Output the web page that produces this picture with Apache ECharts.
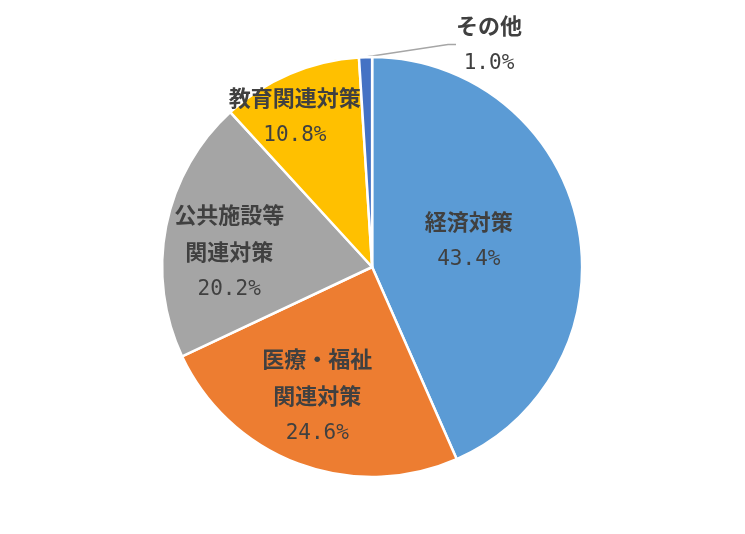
<!DOCTYPE html>
<html><head><meta charset="utf-8">
<script src="https://cdn.jsdelivr.net/npm/echarts@6/dist/echarts.min.js"></script>
<style>html,body{margin:0;padding:0;background:#fff}#c{width:745px;height:534px}</style>
</head><body><div id="c"></div>
<script>
const categories = ['経済対策', '医療・福祉\n関連対策', '公共施設等\n関連対策', '教育関連対策', 'その他'];
const values = [43.4, 24.6, 20.2, 10.8, 1.0];
const colors = ['#5B9BD5', '#ED7D31', '#A5A5A5', '#FFC000', '#4472C4'];
const labelShift = [[-9, -4], [-17, 28], [-37, 6], [-35, -51]];

const chart = echarts.init(document.getElementById('c'), null, {renderer: 'canvas'});
const data = categories.map((n, i) => {
  const d = {name: n, value: values[i], itemStyle: {color: colors[i]}};
  if (i === 4) {
    d.label = {position: 'outside'};
    d.labelLine = {show: true, length: 12, length2: 8, lineStyle: {color: '#A6A6A6', width: 1.5}};
  }
  return d;
});
chart.setOption({
  animation: false,
  series: [{
    type: 'pie',
    center: ['49.95%', '50%'],
    radius: 210,
    startAngle: 90,
    clockwise: true,
    data: data,
    itemStyle: {borderColor: '#fff', borderWidth: 2.5},
    label: {
      show: true,
      position: 'inside',
      color: '#404040',
      formatter: p => p.name.split('\n').map(s => '{n|' + s + '}').join('\n') + '\n{v|' + p.value.toFixed(1) + '%}',
      rich: {
        n: {fontFamily: 'Noto Sans CJK JP', fontWeight: 'bold', fontSize: 22, color: '#404040', lineHeight: 37},
        v: {fontFamily: 'DejaVu Sans Mono', fontSize: 21, color: '#404040', lineHeight: 38}
      }
    },
    labelLine: {show: false},
    labelLayout: function (p) {
      if (p.dataIndex < 4) {
        return {dx: labelShift[p.dataIndex][0], dy: labelShift[p.dataIndex][1]};
      }
      return {x: 489, y: 45, align: 'center', verticalAlign: 'middle'};
    }
  }]
});
</script></body></html>
